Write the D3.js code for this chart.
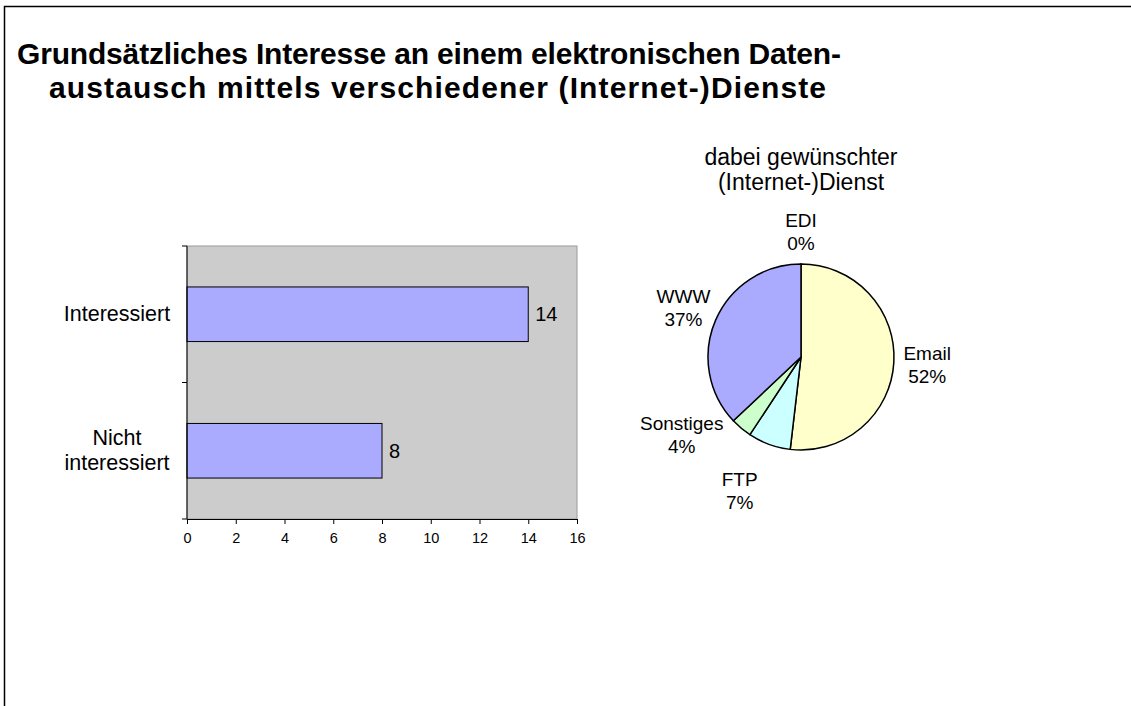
<!DOCTYPE html>
<html>
<head>
<meta charset="utf-8">
<script src="https://cdn.jsdelivr.net/npm/d3@7"></script>
<style>
  body { margin: 0; background: #fff; }
  svg { display: block; font-family: "Liberation Sans", Arial, sans-serif; }
</style>
</head>
<body>
<script>
// ------------------------------------------ Data ------------------------------------------ //
var titleLines = ["Grundsätzliches Interesse an einem elektronischen Daten-",
                  "austausch mittels verschiedener (Internet-)Dienste"];

var barCategories = [["Interessiert"], ["Nicht", "interessiert"]];
var barValues = [14, 8];
var xTicks = [0, 2, 4, 6, 8, 10, 12, 14, 16];

var pieTitle = ["dabei gewünschter", "(Internet-)Dienst"];
var pieNames = ["EDI", "Email", "FTP", "Sonstiges", "WWW"];
var pieValues = [0, 14, 2, 1, 10];
var pieColors = ["#ffffff", "#ffffcc", "#ccffff", "#ccffcc", "#aaaaff"];

// ------------------------------------------ SVG ------------------------------------------- //
var width = 1131, height = 706;
var svg = d3.select("body").append("svg")
    .attr("width", width)
    .attr("height", height);

// frame (top and left edge only visible)
svg.append("path")
    .attr("d", "M4.5,706 V6.5 H1131")
    .attr("fill", "none")
    .attr("stroke", "#000")
    .attr("stroke-width", 1.5);

// title (widths stretched a little to match the original's looser setting)
var titleX = [17, 49], titleW = [824, 777];
svg.append("g").selectAll("text")
    .data(titleLines)
    .enter().append("text")
        .attr("x", function(d, i) { return titleX[i]; })
        .attr("y", function(d, i) { return 64 + i * 34; })
        .attr("font-size", "30px")
        .attr("font-weight", "bold")
        .attr("textLength", function(d, i) { return titleW[i]; })
        .attr("lengthAdjust", "spacing")
        .text(function(d) { return d; });

// ---------------------------------------- Bar chart --------------------------------------- //
var plot = {left: 187, right: 577, top: 246, bottom: 519};

var x = d3.scaleLinear()
    .domain([0, 16])
    .range([plot.left, plot.right]);

var y = d3.scaleBand()
    .domain(d3.range(barValues.length))
    .range([plot.top, plot.bottom])
    .paddingInner(0.6)
    .paddingOuter(0.3);

var bar_g = svg.append("g").attr("class", "bars");

bar_g.append("rect")
    .attr("x", plot.left)
    .attr("y", plot.top)
    .attr("width", plot.right - plot.left)
    .attr("height", plot.bottom - plot.top)
    .attr("fill", "#cccccc")
    .attr("stroke", "#9a9a9a")
    .attr("stroke-width", 1);

bar_g.selectAll("rect.bar")
    .data(barValues)
    .enter().append("rect")
        .attr("class", "bar")
        .attr("x", x(0))
        .attr("y", function(d, i) { return y(i); })
        .attr("width", function(d) { return x(d) - x(0); })
        .attr("height", y.bandwidth())
        .attr("fill", "#aaaaff")
        .attr("stroke", "#000")
        .attr("stroke-width", 1);

// value labels
bar_g.selectAll("text.val")
    .data(barValues)
    .enter().append("text")
        .attr("class", "val")
        .attr("x", function(d) { return x(d) + 7; })
        .attr("y", function(d, i) { return y(i) + y.bandwidth() / 2 + 7; })
        .attr("font-size", "20px")
        .text(function(d) { return d; });

// x axis
var xAxis = svg.append("g")
    .attr("transform", "translate(0," + plot.bottom + ")")
    .call(d3.axisBottom(x).tickValues(xTicks).tickSize(5).tickSizeOuter(0).tickPadding(9));
xAxis.select(".domain").attr("stroke", "#000");
xAxis.selectAll("text")
    .attr("font-size", "14.5px")
    .attr("font-family", "Liberation Sans, Arial, sans-serif")
    .attr("fill", "#000");

// y axis (ticks between categories)
var yEdges = [plot.top].concat(d3.range(1, barValues.length).map(function(i) {
    return (y(i - 1) + y.bandwidth() + y(i)) / 2;
}), [plot.bottom]);
var y_g = svg.append("g");
y_g.append("line")
    .attr("x1", plot.left).attr("x2", plot.left)
    .attr("y1", plot.top).attr("y2", plot.bottom)
    .attr("stroke", "#000");
y_g.selectAll("line.tick")
    .data(yEdges)
    .enter().append("line")
        .attr("class", "tick")
        .attr("x1", plot.left - 5).attr("x2", plot.left)
        .attr("y1", function(d) { return d; }).attr("y2", function(d) { return d; })
        .attr("stroke", "#000");

// category labels
y_g.selectAll("text")
    .data(barCategories)
    .enter().append("text")
        .attr("text-anchor", "middle")
        .attr("font-size", "21.5px")
        .each(function(lines, i) {
            var cy = y(i) + y.bandwidth() / 2 + 7 - (lines.length - 1) * 12.5;
            d3.select(this).selectAll("tspan")
                .data(lines)
                .enter().append("tspan")
                    .attr("x", 117)
                    .attr("y", function(d, j) { return cy + j * 25; })
                    .text(function(d) { return d; });
        });

// ---------------------------------------- Pie chart --------------------------------------- //
var pc = {x: 801, y: 357}, radius = 93;

svg.append("g").selectAll("text")
    .data(pieTitle)
    .enter().append("text")
        .attr("x", pc.x)
        .attr("y", function(d, i) { return 165 + i * 25; })
        .attr("text-anchor", "middle")
        .attr("font-size", "23px")
        .text(function(d) { return d; });

var pie = d3.pie().sort(null).value(function(d) { return d; });
var arcs = pie(pieValues);
var arc = d3.arc().innerRadius(0).outerRadius(radius);
var total = d3.sum(pieValues);

var pie_g = svg.append("g")
    .attr("transform", "translate(" + pc.x + "," + pc.y + ")");

pie_g.selectAll("path")
    .data(arcs)
    .enter().append("path")
        .attr("d", arc)
        .attr("fill", function(d, i) { return pieColors[i]; })
        .attr("stroke", "#000")
        .attr("stroke-width", 1.5)
        .attr("stroke-linejoin", "round");

// labels: pushed out along the slice's mid angle, plus manual nudges for crowded ones
var labelNudge = {FTP: [-20, 15], Sonstiges: [-34, -20]};
var lbl_g = pie_g.append("g");
arcs.forEach(function(a, i) {
    var mid = (a.startAngle + a.endAngle) / 2;
    var dx = Math.sin(mid), dy = -Math.cos(mid);
    var pct = Math.round(pieValues[i] / total * 100) + "%";
    var t = lbl_g.append("text")
        .attr("text-anchor", "middle")
        .attr("font-size", "19px");
    t.append("tspan").text(pieNames[i]);
    t.append("tspan").text(pct);
    var w = t.node().getBBox().width / 2;
    var nudge = labelNudge[pieNames[i]] || [0, 0];
    var cx = dx * (radius + 12) + dx * w / 2 + nudge[0];
    var cy = dy * (radius + 12) + dy * 21 + nudge[1];
    t.selectAll("tspan")
        .attr("x", cx)
        .attr("y", function(d, j) { return cy - 4 + j * 23; });
});
</script>
</body>
</html>
